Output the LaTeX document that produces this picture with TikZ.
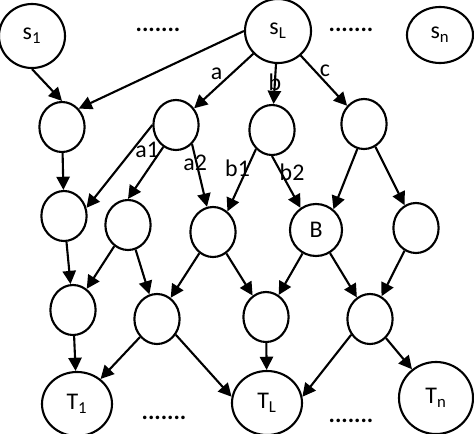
\documentclass[tikz,border=0pt]{standalone}
\usepackage{fontspec}
\setmainfont{Carlito}
\usetikzlibrary{shapes.geometric,arrows.meta}

\begin{document}
\begin{tikzpicture}[x=0.025cm,y=-0.025cm,
		every node/.style={font=\fontsize{17}{20}\selectfont},
		state/.style={draw,ellipse,line width=1.5pt,inner sep=0pt,minimum width=1.13cm,minimum height=1.25cm},
		big/.style={state,minimum width=1.65cm,minimum height=1.6cm},
		lab/.style={inner sep=0pt},
		dots/.style={font=\fontsize{17}{20}\bfseries},
		flow/.style={line width=1.5pt,-{Triangle[length=3.3mm,width=3.3mm]}}]
		
		\useasboundingbox (0,0) rectangle (474,434);
		
		\node[big] (s1) at (32,36) {s\textsubscript{1}};
		\node[big] (sL) at (278,31) {s\textsubscript{L}};
		\node[big,minimum height=1.4cm] (sn) at (440,35) {s\textsubscript{n}};
		\node[dots] (d1) at (158,30) {.......};
		\node[dots] (d2) at (351,30) {.......};
		
		\node[state] (n21) at (62,127) {};
		\node[state] (n22) at (176,125) {};
		\node[state] (n23) at (272,130) {};
		\node[state] (n24) at (364,124) {};
		
		\node[state] (n31) at (64,216) {};
		\node[state] (n32) at (128,225) {};
		\node[state] (n33) at (213,232) {};
		\node[state,minimum width=1.3cm,minimum height=1.3cm] (B) at (316,230) {B};
		\node[state] (n35) at (416,228) {};
		
		\node[state] (n41) at (73,310) {};
		\node[state] (n42) at (157,319) {};
		\node[state] (n43) at (266,317) {};
		\node[state] (n44) at (370,319) {};
		
		\node[big,minimum width=1.75cm,minimum height=1.6cm] (T1) at (77,404) {T\textsubscript{1}};
		\node[big,minimum width=1.75cm,minimum height=1.6cm] (TL) at (267,403) {T\textsubscript{L}};
		\node[big,minimum width=1.85cm,minimum height=1.8cm] (Tn) at (436,398) {T\textsubscript{n}};
		\node[dots] (d3) at (164,418) {.......};
		\node[dots] (d4) at (351,421) {.......};
		
		\draw[flow] (s1.south) -- (n21.north);
		\draw[flow] (sL.west) -- (n21.north east);
		\draw[flow] (sL) -- node[lab,pos=0.36,xshift=-11pt] {a} (n22);
		\draw[flow] (sL) -- node[lab,pos=0.45] {b} (n23);
		\draw[flow] (sL) -- node[lab,pos=0.31,xshift=7pt] {c} (n24);
		
		\draw[flow] (n21) -- (n31);
		\draw[flow] (n22.west) -- (n31.20);
		\draw[flow] (n22.240) -- node[lab,pos=0.06,xshift=-10pt] {a1} (n32.north);
		\draw[flow] (n22.-50) -- node[lab,pos=0.3,xshift=-1pt] {a2} (n33);
		\draw[flow] (n23.230) -- node[lab,pos=0.3,xshift=-7pt] {b1} (n33.55);
		\draw[flow] (n23.south) -- node[lab,pos=0.31,xshift=8pt] {b2} (B.125);
		\draw[flow] (n24.255) -- (B.50);
		\draw[flow] (n24) -- (n35);
		
		\draw[flow] (n31) -- (n41);
		\draw[flow] (n32) -- (n41);
		\draw[flow] (n32) -- (n42);
		\draw[flow] (n33) -- (n42);
		\draw[flow] (n33) -- (n43);
		\draw[flow] (B) -- (n43);
		\draw[flow] (B) -- (n44);
		\draw[flow] (n35) -- (n44);
		
		\draw[flow] (n41) -- (T1);
		\draw[flow] (n42) -- (T1);
		\draw[flow] (n42.-40) -- (TL.170);
		\draw[flow] (n43) -- (TL);
		\draw[flow] (n44.220) -- (TL.10);
		\draw[flow] (n44) -- (Tn);
		
	\end{tikzpicture}
\end{document}
